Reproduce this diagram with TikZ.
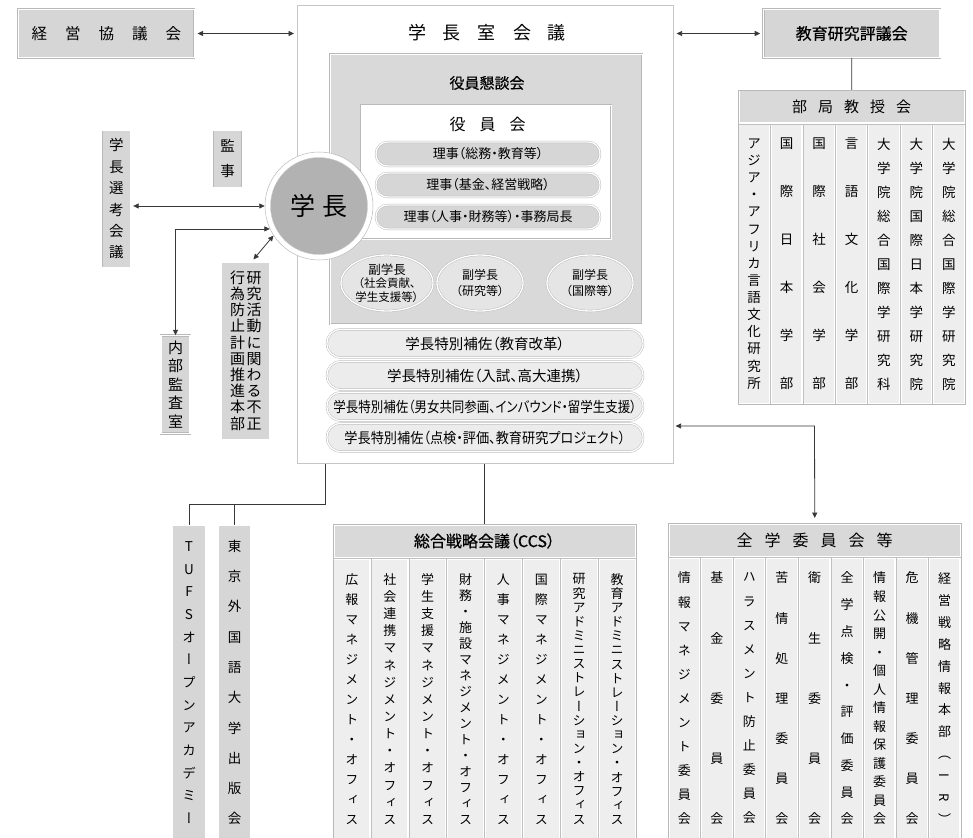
\documentclass[tikz,border=0pt]{standalone}
\usepackage{fontspec}
\usepackage{graphicx}
\usetikzlibrary{arrows.meta,shapes.geometric}
\setmainfont{Noto Sans CJK JP}[RawFeature=+palt]
\newfontfamily\jpv{Noto Sans CJK JP}[RawFeature=+vert]
\newfontfamily\jpb{Noto Sans CJK JP}[FakeBold=0.5,RawFeature=+palt]
\newcommand\rotI{\rotatebox[origin=c]{-90}{I}}
\newcommand\rotR{\rotatebox[origin=c]{-90}{R}}
\begin{document}
\begin{tikzpicture}[x=1pt,y=-1pt,
  dbl/.style={draw=gray!55, double=white, double distance=1.3pt, line width=0.45pt},
  gbox/.style={dbl, fill=gray!32, inner sep=0pt},
  vt/.style 2 args={font={\jpv\fontsize{#1}{#2}\selectfont\lineskiplimit=-50pt\relax}, align=center, inner sep=0pt},
  tframe/.style={draw=gray!55, line width=0.5pt, fill=white, inner sep=0pt, anchor=north west},
  thead/.style={fill=gray!30, inner sep=0pt},
  tcell/.style={fill=gray!13},
  sepl/.style={draw=gray!50, line width=0.5pt},
  conn/.style={draw=black!78, line width=0.8pt},
  arr/.style={conn, {Triangle[length=5.5pt,width=5pt]}-{Triangle[length=5.5pt,width=5pt]}},
  riji/.style={dbl, fill=gray!32, rounded corners=11.5pt, minimum width=224pt, minimum height=24pt, inner sep=0pt, font=\fontsize{13}{15}\selectfont},
  hosa/.style={dbl, fill=gray!15, rounded corners=13.5pt, minimum width=316pt, minimum height=28pt, inner sep=0pt, font=\fontsize{14.5}{16}\selectfont},
  vp/.style={ellipse, dbl, fill=gray!20, inner sep=0pt, align=center, font=\fontsize{11.5}{13.5}\selectfont, minimum height=56pt}
]
\useasboundingbox (0,0) rectangle (973,837);
\fill[white] (0,0) rectangle (973,837);
\clip (0,0) rectangle (973,837);

% ---------- central block ----------
\node[draw=gray!45, line width=0.6pt, fill=white, minimum width=376pt, minimum height=458pt, anchor=north west, inner sep=0pt] (shitsu) at (297,5) {};
\node[font=\fontsize{18}{20}\selectfont] (shitsutitle) at (487,33) {学\kern17pt 長\kern17pt 室\kern17pt 会\kern17pt 議};

\node[dbl, fill=gray!30, minimum width=312pt, minimum height=270pt, anchor=north west, inner sep=0pt] (kondan) at (330,54) {};
\node[font=\jpb\fontsize{15}{17}\selectfont] (kondantitle) at (487,83) {役員懇談会};

\node[dbl, fill=white, minimum width=250pt, minimum height=134pt, anchor=north west, inner sep=0pt] (yakuin) at (361,105) {};
\node[font=\fontsize{16}{18}\selectfont] (yakuintitle) at (487.5,124) {役\kern14pt 員\kern14pt 会};

\node[riji] (riji1) at (488,154) {理事（総務・教育等）};
\node[riji] (riji2) at (488,185) {理事（基金、経営戦略）};
\node[riji] (riji3) at (488,217) {理事（人事・財務等）・事務局長};

\node[vp, minimum width=92pt] (vp1) at (387,283) {{\fontsize{12.5}{13}\selectfont 副学長}\\（社会貢献、\\学生支援等）};
\node[vp, minimum width=86pt, font=\fontsize{12}{16}\selectfont] (vp2) at (480,283) {副学長\\（研究等）};
\node[vp, minimum width=86pt, font=\fontsize{12}{16}\selectfont] (vp3) at (590,283) {副学長\\（国際等）};

\node[hosa] (hosa1) at (485,343.5) {学長特別補佐（教育改革）};
\node[hosa] (hosa2) at (485,375.5) {学長特別補佐（入試、高大連携）};
\node[hosa] (hosa3) at (485,406.5) {\resizebox{303pt}{\height}{学長特別補佐（男女共同参画、インバウンド・留学生支援）}};
\node[hosa] (hosa4) at (485,437.5) {\resizebox{281pt}{\height}{学長特別補佐（点検・評価、教育研究プロジェクト）}};

% president circle
\node[circle, fill=white, draw=gray!55, line width=0.5pt, minimum size=108pt, inner sep=0pt] (gakucho) at (319,206) {};
\node[circle, fill=gray!60, draw=gray!40, line width=0.3pt, minimum size=97pt, inner sep=0pt, font=\fontsize{25}{27}\selectfont] (gakuchotxt) at (gakucho.center) {学\kern7pt 長};

% ---------- top boxes ----------
\node[gbox, minimum width=176pt, minimum height=48.5pt, font=\fontsize{15.5}{17}\selectfont] (keiei) at (106.3,33.5) {経\kern18pt 営\kern18pt 協\kern18pt 議\kern18pt 会};
\node[gbox, minimum width=176.5pt, minimum height=48.5pt, font=\jpb\fontsize{16}{18}\selectfont] (hyogi) at (851.7,33.5) {教育研究評議会};

% ---------- left boxes ----------
\node[gbox, vt={14.5}{21.4}, minimum width=29.3pt, minimum height=138pt] (senko) at (116.3,199) {学\\長\\選\\考\\会\\議};
\node[gbox, vt={14.5}{25}, minimum width=29.6pt, minimum height=58pt] (kanji) at (227.5,159) {監\\事};
\node[gbox, vt={15}{18.5}, minimum width=29pt, minimum height=98pt] (naibu) at (175.5,384.5) {内\\部\\監\\査\\室};
\node[gbox, minimum width=49pt, minimum height=178pt] (fusei) at (245.5,351) {};
\node[vt={15}{16.2}] (fuseiR) at (254,350.5) {研\\究\\活\\動\\に\\関\\わ\\る\\不\\正};
\node[vt={15}{16.2}] (fuseiL) at (237.5,350.5) {行\\為\\防\\止\\計\\画\\推\\進\\本\\部};

% ---------- 部局教授会 ----------
\node[tframe, minimum width=227pt, minimum height=314pt] (bukyoku) at (738,90) {};
\draw[sepl] (738,124) -- (965,124);
\foreach \x in {770.4,802.9,835.3,867.7,900.1,932.6} \draw[sepl] (\x,124) -- (\x,404);
\node[thead, minimum width=224pt, minimum height=31pt, font=\fontsize{15}{17}\selectfont] (bukyokuhead) at (851.5,107) {部\kern11pt 局\kern11pt 教\kern11pt 授\kern11pt 会};
\node[tcell, vt={13.5}{17.14}, minimum width=29.5pt, minimum height=277pt] (bk1) at (754.2,264) {ア\\ジ\\ア\\・\\ア\\フ\\リ\\カ\\言\\語\\文\\化\\研\\究\\所};
\node[tcell, vt={13.5}{48}, minimum width=29.5pt, minimum height=277pt] (bk2) at (786.6,264) {国\\際\\日\\本\\学\\部};
\node[tcell, vt={13.5}{48}, minimum width=29.5pt, minimum height=277pt] (bk3) at (819.1,264) {国\\際\\社\\会\\学\\部};
\node[tcell, vt={13.5}{48}, minimum width=29.5pt, minimum height=277pt] (bk4) at (851.5,264) {言\\語\\文\\化\\学\\部};
\node[tcell, vt={13.5}{24}, minimum width=29.5pt, minimum height=277pt] (bk5) at (883.9,264) {大\\学\\院\\総\\合\\国\\際\\学\\研\\究\\科};
\node[tcell, vt={13.5}{24}, minimum width=29.5pt, minimum height=277pt] (bk6) at (916.4,264) {大\\学\\院\\国\\際\\日\\本\\学\\研\\究\\院};
\node[tcell, vt={13.5}{24}, minimum width=29.5pt, minimum height=277pt] (bk7) at (948.8,264) {大\\学\\院\\総\\合\\国\\際\\学\\研\\究\\院};

% ---------- bottom left boxes ----------
\node[gbox, vt={13.5}{22.67}, minimum width=34pt, minimum height=315pt] (tufs) at (189,682.5) {T\\U\\F\\S\\オ\\ー\\プ\\ン\\ア\\カ\\デ\\ミ\\ー};
\node[gbox, vt={13.5}{30.3}, minimum width=33pt, minimum height=315pt] (tokyo) at (234.5,682.5) {東\\京\\外\\国\\語\\大\\学\\出\\版\\会};

% ---------- 総合戦略会議 ----------
\node[tframe, minimum width=303pt, minimum height=316pt] (ccs) at (333,524) {};
\draw[sepl] (333,558) -- (636,558);
\foreach \x in {370.9,408.8,446.6,484.5,522.4,560.3,598.1} \draw[sepl] (\x,558) -- (\x,840);
\node[thead, minimum width=300pt, minimum height=31pt, font=\jpb\fontsize{16}{18}\selectfont] (ccshead) at (484.5,541) {総合戦略会議（CCS）};
\node[tcell, vt={13}{20}, minimum width=35pt, minimum height=279pt] (cc1) at (351.9,699) {広\\報\\マ\\ネ\\ジ\\メ\\ン\\ト\\・\\オ\\フ\\ィ\\ス};
\node[tcell, vt={13}{17.14}, minimum width=35pt, minimum height=279pt] (cc2) at (389.8,699) {社\\会\\連\\携\\マ\\ネ\\ジ\\メ\\ン\\ト\\・\\オ\\フ\\ィ\\ス};
\node[tcell, vt={13}{17.14}, minimum width=35pt, minimum height=279pt] (cc3) at (427.7,699) {学\\生\\支\\援\\マ\\ネ\\ジ\\メ\\ン\\ト\\・\\オ\\フ\\ィ\\ス};
\node[tcell, vt={13}{16}, minimum width=35pt, minimum height=279pt] (cc4) at (465.6,699) {財\\務\\・\\施\\設\\マ\\ネ\\ジ\\メ\\ン\\ト\\・\\オ\\フ\\ィ\\ス};
\node[tcell, vt={13}{20}, minimum width=35pt, minimum height=279pt] (cc5) at (503.4,699) {人\\事\\マ\\ネ\\ジ\\メ\\ン\\ト\\・\\オ\\フ\\ィ\\ス};
\node[tcell, vt={13}{20}, minimum width=35pt, minimum height=279pt] (cc6) at (541.3,699) {国\\際\\マ\\ネ\\ジ\\メ\\ン\\ト\\・\\オ\\フ\\ィ\\ス};
\node[tcell, vt={13}{14.12}, minimum width=35pt, minimum height=279pt] (cc7) at (579.2,699) {研\\究\\ア\\ド\\ミ\\ニ\\ス\\ト\\レ\\ー\\シ\\ョ\\ン\\・\\オ\\フ\\ィ\\ス};
\node[tcell, vt={13}{14.12}, minimum width=35pt, minimum height=279pt] (cc8) at (617.1,699) {教\\育\\ア\\ド\\ミ\\ニ\\ス\\ト\\レ\\ー\\シ\\ョ\\ン\\・\\オ\\フ\\ィ\\ス};

% ---------- 全学委員会等 ----------
\node[tframe, minimum width=293pt, minimum height=317pt] (zengaku) at (668,523) {};
\draw[sepl] (668,557) -- (961,557);
\foreach \x in {700.6,733.1,765.7,798.2,830.8,863.4,895.9,928.4} \draw[sepl] (\x,557) -- (\x,840);
\node[thead, minimum width=290pt, minimum height=31pt, font=\fontsize{16}{18}\selectfont] (zengakuhead) at (814.5,540) {全\kern12pt 学\kern12pt 委\kern12pt 員\kern12pt 会\kern12pt 等};
\node[tcell, vt={13}{24.1}, minimum width=29.5pt, minimum height=280pt] (zg1) at (684.3,698.5) {情\\報\\マ\\ネ\\ジ\\メ\\ン\\ト\\委\\員\\会};
\node[tcell, vt={13}{60.25}, minimum width=29.5pt, minimum height=280pt] (zg2) at (716.8,698.5) {基\\金\\委\\員\\会};
\node[tcell, vt={13}{24.1}, minimum width=29.5pt, minimum height=280pt] (zg3) at (749.4,698.5) {ハ\\ラ\\ス\\メ\\ン\\ト\\防\\止\\委\\員\\会};
\node[tcell, vt={13}{40.17}, minimum width=29.5pt, minimum height=280pt] (zg4) at (781.9,698.5) {苦\\情\\処\\理\\委\\員\\会};
\node[tcell, vt={13}{60.25}, minimum width=29.5pt, minimum height=280pt] (zg5) at (814.5,698.5) {衛\\生\\委\\員\\会};
\node[tcell, vt={13}{26.78}, minimum width=29.5pt, minimum height=280pt] (zg6) at (847.1,698.5) {全\\学\\点\\検\\・\\評\\価\\委\\員\\会};
\node[tcell, vt={13}{18.54}, minimum width=29.5pt, minimum height=280pt] (zg7) at (879.6,698.5) {情\\報\\公\\開\\・\\個\\人\\情\\報\\保\\護\\委\\員\\会};
\node[tcell, vt={13}{40.17}, minimum width=29.5pt, minimum height=280pt] (zg8) at (912.2,698.5) {危\\機\\管\\理\\委\\員\\会};
\node[tcell, vt={13}{21.9}, minimum width=29.5pt, minimum height=280pt] (zg9) at (944.7,698.5) {経\\営\\戦\\略\\情\\報\\本\\部\\（\\\rotI\\\rotR\\）};

% ---------- connectors ----------
\draw[arr, shorten <=3pt, shorten >=3pt] (keiei.east) -- (keiei.east -| shitsu.west);
\draw[arr, shorten <=3pt, shorten >=3pt] (shitsu.east |- hyogi.west) -- (hyogi.west);
\draw[conn] (hyogi.south) -- (bukyoku.north);
\draw[arr, shorten <=2pt] (senko.east |- gakucho.west) -- (gakucho.west);
\draw[arr] (gakucho.205) -| (naibu.north);
\draw[arr, shorten <=3pt] ([xshift=6pt]fusei.north) -- (gakucho.213);
\coordinate (bj) at (325,504);
\draw[conn] (bj |- shitsu.south) -- (bj) -| (tufs.north);
\draw[conn] (bj -| tokyo.north) -- (tokyo.north);
\draw[conn] (ccs.north |- shitsu.south) -- (ccs.north);
\coordinate (rj) at (814.5,426);
\draw[arr, shorten <=5pt, shorten >=2pt] (zengaku.north) -- (rj) -- (rj -| shitsu.east);
\end{tikzpicture}
\end{document}
